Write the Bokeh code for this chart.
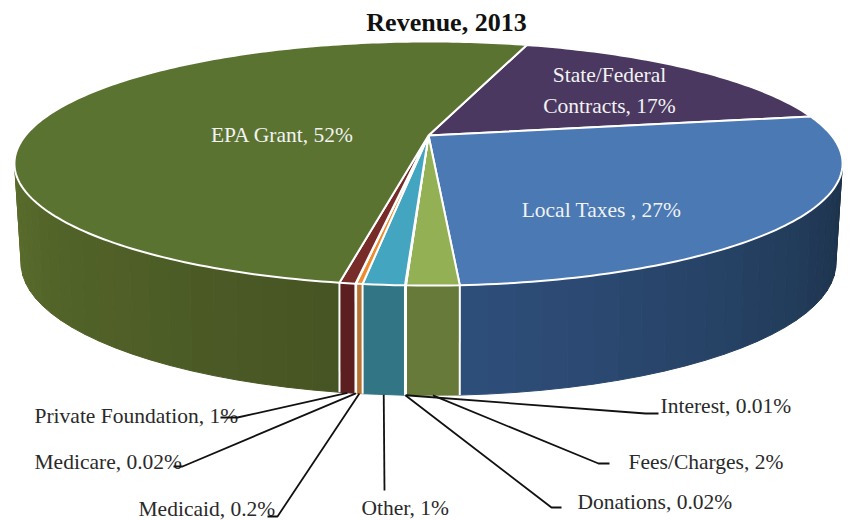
import math
from bokeh.plotting import figure
from bokeh.models import Range1d
from bokeh.core.properties import value
from bokeh.embed import file_html
from bokeh.resources import INLINE

# ---- data (clockwise from the EPA Grant / State boundary) ----
categories = ["State/Federal Contracts", "Local Taxes", "Fees/Charges", "Interest", "Donations",
              "Other", "Medicaid", "Medicare", "Private Foundation", "EPA Grant"]
shares = [17.47, 26.78, 1.64, 0.01, 0.02, 1.3, 0.2, 0.02, 0.5, 52.08]
inside_labels = ["State/Federal", "Contracts, 17%", "Local Taxes , 27%", "EPA Grant, 52%"]
outside_labels = ["Fees/Charges, 2%", "Interest, 0.01%", "Donations, 0.02%", "Other, 1%",
                  "Medicaid, 0.2%", "Medicare, 0.02%", "Private Foundation, 1%"]
title_text = "Revenue, 2013"

# ---- style ----
top_colors = ["#4A3860", "#4A79B4", "#93B055", "#E8C050", "#B0B0B0", "#43A5C0", "#EE8B2E", "#C06030", "#772C2A", "#5B7330"]
wall_left = [(60, 45, 75), (46, 78, 122), (103, 122, 58), (103, 122, 58), (103, 122, 58), (50, 120, 138),
             (184, 115, 50), (184, 115, 50), (92, 30, 30), (70, 85, 35)]
wall_right = [(60, 45, 75), (28, 50, 74), (103, 122, 58), (103, 122, 58), (103, 122, 58), (50, 118, 134),
              (184, 115, 50), (184, 115, 50), (92, 30, 30), (90, 108, 44)]
FONT = "Liberation Serif"
start_angle = 17.3
cx = 428.0
top_k, top_y0, top_a, top_b = 0.2296, 135.0, 115.6, 403.0
bot_k, bot_y0, bot_a, bot_b = 0.2445, 230.7, 124.1, 395.0
theta_limit = math.degrees(math.acos(-top_k))


def project(theta, k, y0, a, b):
    t = math.radians(theta)
    s = 1 + k * math.cos(t)
    return cx + b * math.sin(t) / s, y0 - a * math.cos(t) / s


def top(theta):
    return project(theta, top_k, top_y0, top_a, top_b)


def bot(theta):
    return project(theta, bot_k, bot_y0, bot_a, bot_b)


def mix(c1, c2, f):
    return "#%02x%02x%02x" % tuple(int(round(c1[i] + (c2[i] - c1[i]) * f)) for i in range(3))


total = sum(shares)
edges = [start_angle]
for v in shares:
    edges.append(edges[-1] + v / total * 360.0)

p = figure(width=850, height=520, x_range=Range1d(0, 850), y_range=Range1d(520, 0),
           x_axis_type=None, y_axis_type=None, toolbar_location=None, output_backend="svg",
           min_border=0, outline_line_color=None, background_fill_color="white", border_fill_color="white")
p.grid.visible = False

# side walls as narrow shaded strips
wx, wy, wc = [], [], []
for i in range(len(shares)):
    a0, a1 = edges[i], edges[i + 1]
    for lo, hi in ((a0, a1), (a0 - 360, a1 - 360)):
        l, h = max(lo, theta_limit), min(hi, 360 - theta_limit)
        if h <= l:
            continue
        n = max(1, int((h - l) / 3.0))
        for j in range(n):
            s0 = l + (h - l) * j / n
            s1 = l + (h - l) * (j + 1) / n
            f = j / max(1, n - 1)
            t0, t1, b1, b0 = top(s0), top(s1), bot(s1), bot(s0)
            wx.append([t0[0], t1[0], b1[0], b0[0]])
            wy.append([t0[1], t1[1], b1[1], b0[1]])
            wc.append(mix(wall_right[i], wall_left[i], f) if i != 9 else mix(wall_left[i], wall_right[i], f))
p.patches(wx, wy, fill_color=wc, line_color=wc, line_width=1.0)

# white separators on the walls
sx, sy = [], []
for e in edges:
    a = e % 360
    if theta_limit < a < 360 - theta_limit:
        t, b = top(a), bot(a)
        sx.append([t[0], b[0]])
        sy.append([t[1], b[1]])
p.multi_line(sx, sy, line_color="white", line_width=2)

# top face
fx, fy = [], []
for i in range(len(shares)):
    a0, a1 = edges[i], edges[i + 1]
    n = max(2, int((a1 - a0) / 1.0))
    pts = [top(a0 + (a1 - a0) * j / n) for j in range(n + 1)]
    fx.append([cx] + [q[0] for q in pts])
    fy.append([top_y0] + [q[1] for q in pts])
p.patches(fx, fy, fill_color=top_colors, line_color="white", line_width=2, line_join="round")

# labels
p.text([446], [22], text=[title_text], text_font=value(FONT), text_font_style="bold", text_font_size="26px",
       text_color="#111111", text_align="center", text_baseline="middle")
p.text([609, 609, 601, 282], [74, 105, 209, 134], text=inside_labels, text_font=value(FONT),
       text_font_size="21.5px", text_color="#F2F2F2", text_align="center", text_baseline="middle")
out_x = [628, 660, 577, 361, 138, 34, 34]
out_y = [461, 405, 501, 507, 508, 461, 415]
p.text(out_x, out_y, text=outside_labels, text_font=value(FONT), text_font_size="21.5px",
       text_color="#2a2a2a", text_align="left", text_baseline="middle")

# leader lines start on the slice's lower rim, then elbow to the label
leader_slices = [2, 3, 4, 5, 6, 7, 8]
elbow_x = [598, 645, 551, 384, 277, 182, 237]
elbow_y = [463, 413, 507, 490, 516, 466, 417]
tip_x = [609, 658, 561, 384, 267, 173, 220]
lx, ly = [], []
for s, ex, ey, tx in zip(leader_slices, elbow_x, elbow_y, tip_x):
    m = (edges[s] + edges[s + 1]) / 2
    b = bot(m)
    lx.append([b[0], ex, tx])
    ly.append([b[1], ey, ey])
p.multi_line(lx, ly, line_color="#111111", line_width=1.8)

open("out.html", "w").write(file_html(p, INLINE))
